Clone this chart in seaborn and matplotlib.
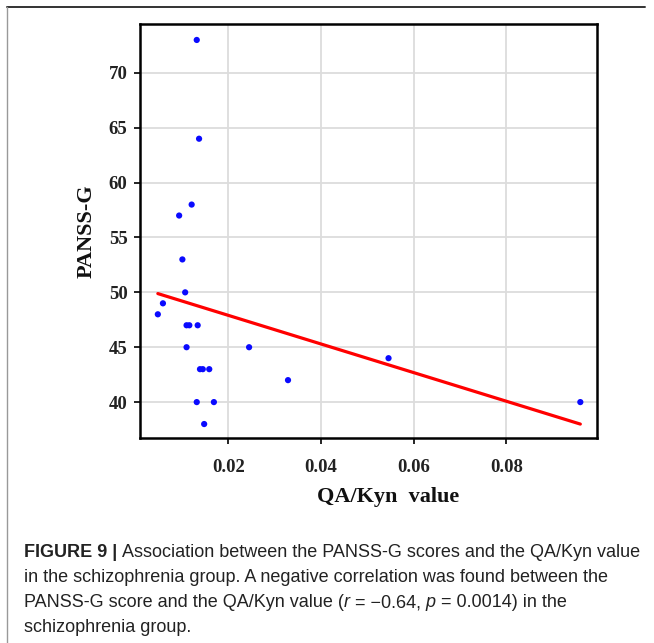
import matplotlib
matplotlib.use("Agg")
import matplotlib.pyplot as plt
import seaborn as sns
import pandas as pd
from matplotlib.lines import Line2D

# ---- data ----
qa_kyn = [0.0132, 0.0137, 0.0121, 0.0094, 0.0101, 0.0107, 0.0059, 0.0048,
          0.0110, 0.0116, 0.0134, 0.0110, 0.0245, 0.0139, 0.0145, 0.0159,
          0.0329, 0.0546, 0.0132, 0.0169, 0.0148, 0.0960]
panss_g = [73, 64, 58, 57, 53, 50, 49, 48,
           47, 47, 47, 45, 45, 43, 43, 43,
           42, 44, 40, 40, 38, 40]
x_ticks = [0.02, 0.04, 0.06, 0.08]
x_tick_labels = ["0.02", "0.04", "0.06", "0.08"]
y_ticks = [40, 45, 50, 55, 60, 65, 70]
x_label = "QA/Kyn  value"
y_label = "PANSS-G"
caption_lines = [
    [("FIGURE 9 | ", "bold", "normal"),
     ("Association between the PANSS-G scores and the QA/Kyn value", "normal", "normal")],
    [("in the schizophrenia group. A negative correlation was found between the", "normal", "normal")],
    [("PANSS-G score and the QA/Kyn value (", "normal", "normal"), ("r", "normal", "italic"),
     (" = \u22120.64, ", "normal", "normal"), ("p", "normal", "italic"),
     (" = 0.0014) in the", "normal", "normal")],
    [("schizophrenia group.", "normal", "normal")],
]

df = pd.DataFrame({"x": qa_kyn, "y": panss_g})

W, H = 654, 643
sns.set_theme(style="white")
plt.rcParams["font.family"] = ["Liberation Serif", "DejaVu Serif"]

fig = plt.figure(figsize=(W / 100, H / 100), dpi=100)
fig.patch.set_facecolor("white")

L, R, T, B = 140, 597, 23.5, 438.3
ax = fig.add_axes([L / W, 1 - B / H, (R - L) / W, (B - T) / H])

sns.scatterplot(data=df, x="x", y="y", ax=ax, color="#0a0aff", s=20,
                edgecolor="none", zorder=3)
sns.regplot(data=df, x="x", y="y", ax=ax, scatter=False, ci=None,
            truncate=True, color="#ff0000", line_kws={"lw": 2.3, "zorder": 4})

ax.set_xlim(0.00095, 0.0996)
ax.set_ylim(36.7, 74.5)
ax.set_xticks(x_ticks)
ax.set_xticklabels(x_tick_labels)
ax.set_yticks(y_ticks)
ax.grid(True, color="#dcdcdc", lw=1.3, zorder=0)
ax.set_axisbelow(True)
for sp in ax.spines.values():
    sp.set_visible(True)
    sp.set_color("black")
    sp.set_linewidth(1.8)
ax.tick_params(axis="both", direction="out", length=4, width=1.2, color="black",
               labelsize=13.5, bottom=True, left=True)
ax.tick_params(axis="x", pad=11)
ax.tick_params(axis="y", pad=5)
for lab in ax.get_xticklabels() + ax.get_yticklabels():
    lab.set_fontweight("bold")
    lab.set_color("#222222")

ax.set_xlabel(x_label, fontsize=16, fontweight="bold", color="#111111")
ax.set_ylabel(y_label, fontsize=16, fontweight="bold", color="#111111")
ax.xaxis.set_label_coords((388 - L) / (R - L), -(497 - B) / (B - T), transform=ax.transAxes)
ax.yaxis.set_label_coords(-(L - 87) / (R - L), 0.5, transform=ax.transAxes)
ax.xaxis.label.set_va("center")
ax.yaxis.label.set_va("center")

# frame lines of the figure panel
fig.add_artist(Line2D([7 / W, 645 / W], [1 - 7 / H, 1 - 7 / H], transform=fig.transFigure,
                      color="#333333", lw=1.4))
fig.add_artist(Line2D([7 / W, 7 / W], [1 - 7 / H, 0], transform=fig.transFigure,
                      color="#999999", lw=1.0))

# caption
cap_fs = 13.0
cap_family = ["Liberation Sans", "DejaVu Sans"]
baselines = [557, 582, 607, 632]
x0 = 23.5
fig.canvas.draw()
renderer = fig.canvas.get_renderer()
for segs, yb in zip(caption_lines, baselines):
    xp = x0
    for txt, wt, st in segs:
        t = fig.text(xp / W, 1 - yb / H, txt, fontsize=cap_fs, fontweight=wt,
                     fontstyle=st, family=cap_family, color="#222222",
                     va="baseline", ha="left")
        bb = t.get_window_extent(renderer=renderer)
        xp += bb.width

fig.savefig("out.png", dpi=100)
